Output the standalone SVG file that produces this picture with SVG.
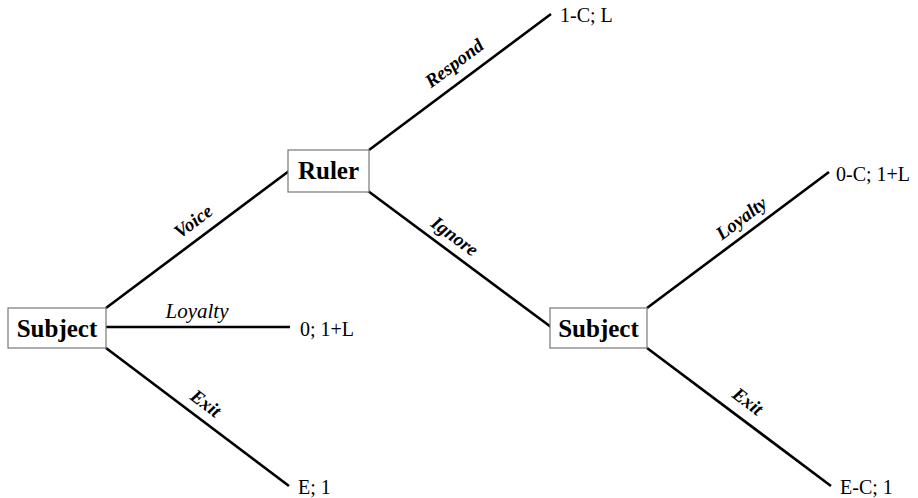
<svg xmlns="http://www.w3.org/2000/svg" width="918" height="498" viewBox="0 0 918 498">
<style>
text{font-family:'Liberation Serif','Times New Roman',serif}
.box{fill:#fff;stroke:#777;stroke-width:1.2}
.node{font-weight:bold;font-size:25px;fill:#000;text-anchor:middle}
.edge{stroke:#000;stroke-width:2.6;fill:none}
.lbl{font-weight:bold;font-style:italic;font-size:19px;fill:#000;text-anchor:middle}
.pay{font-size:20px;fill:#000}
</style>
<rect width="918" height="498" fill="#fff"/>
<g id="connectors">
<line class="edge" x1="106" y1="308" x2="289" y2="171"/>
<line class="edge" x1="106" y1="327" x2="290" y2="327"/>
<line class="edge" x1="106" y1="348" x2="289" y2="486"/>
<line class="edge" x1="369" y1="150" x2="551" y2="14"/>
<line class="edge" x1="368" y1="191" x2="551" y2="327"/>
<line class="edge" x1="647" y1="308" x2="829" y2="172"/>
<line class="edge" x1="647" y1="348" x2="831" y2="486"/>
<text class="lbl" transform="translate(193,221) rotate(-36.8)" dy="0.35em">Voice</text>
<text class="lbl" x="197" y="318" style="font-weight:normal;font-size:21px">Loyalty</text>
<text class="lbl" transform="translate(206,403) rotate(37)" dy="0.35em">Exit</text>
<text class="lbl" transform="translate(454,63) rotate(-36.8)" dy="0.35em">Respond</text>
<text class="lbl" transform="translate(455,236) rotate(36.6)" dy="0.35em">Ignore</text>
<text class="lbl" transform="translate(741,218) rotate(-36.9)" dy="0.35em">Loyalty</text>
<text class="lbl" transform="translate(748,401) rotate(37)" dy="0.35em">Exit</text>
</g>
<g id="subject1">
<rect class="box" x="8" y="308" width="98" height="40"/>
<text class="node" x="57" y="337">Subject</text>
</g>
<g id="ruler">
<rect class="box" x="288" y="150" width="81" height="42"/>
<text class="node" x="328.5" y="179">Ruler</text>
</g>
<g id="subject2">
<rect class="box" x="550" y="308" width="97" height="40"/>
<text class="node" x="598.5" y="337">Subject</text>
</g>
<g id="payoff-respond"><text class="pay" x="560" y="22">1-C; L</text></g>
<g id="payoff-loyalty1"><text class="pay" x="300" y="336">0; 1+L</text></g>
<g id="payoff-exit1"><text class="pay" x="298" y="494">E; 1</text></g>
<g id="payoff-loyalty2"><text class="pay" x="836" y="181">0-C; 1+L</text></g>
<g id="payoff-exit2"><text class="pay" x="840" y="494">E-C; 1</text></g>
</svg>
